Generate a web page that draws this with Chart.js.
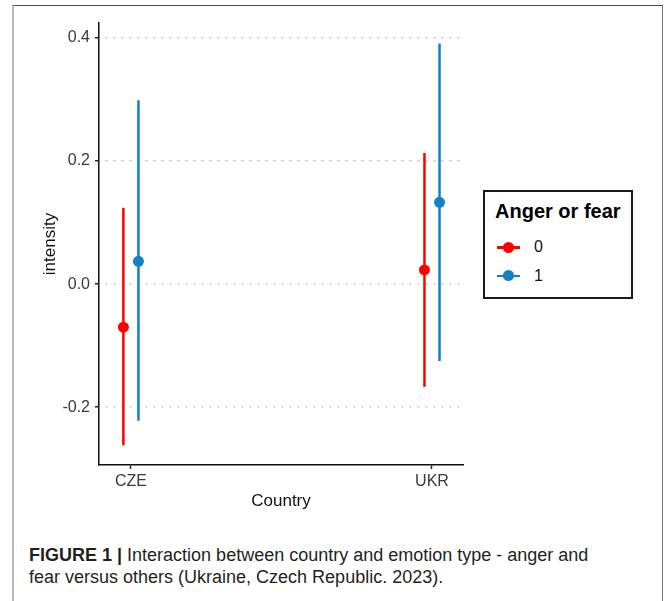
<!DOCTYPE html>
<html>
<head>
<meta charset="utf-8">
<script src="https://cdn.jsdelivr.net/npm/chart.js@4.4.0/dist/chart.umd.min.js"></script>
<style>
  body { margin: 0; background: #fff; font-family: "Liberation Sans", Arial, sans-serif; }
  #wrap { position: relative; width: 665px; height: 601px; overflow: hidden; }
  #frame { position: absolute; left: 12px; top: 5px; width: 651px; height: 610px; box-sizing: border-box;
    border-top: 1.5px solid #4a4a4a; border-left: 2px solid #bbb; border-right: 1.5px solid #777; }
  #chart { position: absolute; left: 0; top: 0; }
  #legend { position: absolute; left: 483px; top: 190px; width: 150px; height: 109px; box-sizing: border-box;
    border: 2px solid #1a1a1a; background: #fff; }
  #legend .title { position: absolute; left: 10px; top: 7px; font-weight: bold; font-size: 20px; line-height: 24px; color: #000; white-space: nowrap; }
  #legend .row { position: absolute; left: 0; height: 20px; width: 140px; }
  #legend .line { position: absolute; left: 12px; top: 9px; width: 23px; height: 2.5px; }
  #legend .dot { position: absolute; left: 18px; top: 4.5px; width: 11px; height: 11px; border-radius: 50%; }
  #legend .lab { position: absolute; left: 49px; top: 0; font-size: 16px; line-height: 20px; color: #111; }
  #caption { position: absolute; left: 29px; top: 544px; font-size: 18px; line-height: 22px; color: #231f20; white-space: nowrap; }
</style>
</head>
<body>
<div id="wrap">
  <div id="frame"></div>
  <canvas id="chart" width="665" height="520"></canvas>
  <div id="legend"></div>
  <div id="caption"><b>FIGURE 1 |</b> Interaction between country and emotion type - anger and<br>fear versus others (Ukraine, Czech Republic. 2023).</div>
</div>
<script>
// estimates
const countries = ['CZE', 'UKR'];
const groups = ['0', '1'];
const colors = ['#fe0000', '#1380c8'];
const est0 = [-0.070, 0.023];
const lo0 = [-0.262, -0.167];
const hi0 = [0.124, 0.213];
const est1 = [0.037, 0.133];
const lo1 = [-0.222, -0.125];
const hi1 = [0.299, 0.391];
const yTicks = [-0.2, 0.0, 0.2, 0.4];

const dodge = 0.025;
const series = [
  { est: est0, lo: lo0, hi: hi0, off: -dodge },
  { est: est1, lo: lo1, hi: hi1, off: dodge }
];

const errorBars = {
  id: 'errorBars',
  beforeDatasetsDraw(chart) {
    const { ctx, scales: { x, y } } = chart;
    ctx.save();
    ctx.lineWidth = 2.5;
    series.forEach((s, k) => {
      ctx.strokeStyle = colors[k];
      countries.forEach((c, i) => {
        const px = x.getPixelForValue(i + s.off);
        ctx.beginPath();
        ctx.moveTo(px, y.getPixelForValue(s.lo[i]));
        ctx.lineTo(px, y.getPixelForValue(s.hi[i]));
        ctx.stroke();
      });
    });
    ctx.restore();
  }
};

new Chart(document.getElementById('chart'), {
  type: 'scatter',
  data: {
    datasets: series.map((s, k) => ({
      label: groups[k],
      data: countries.map((c, i) => ({ x: i + s.off, y: s.est[i] })),
      backgroundColor: colors[k],
      borderWidth: 0,
      pointRadius: 5.5
    }))
  },
  options: {
    responsive: false,
    animation: false,
    events: [],
    layout: { padding: { left: 0, right: 202, top: 23, bottom: 0 } },
    plugins: { legend: { display: false }, tooltip: { enabled: false } },
    scales: {
      x: {
        type: 'linear',
        min: -0.106,
        max: 1.103,
        afterBuildTicks: (axis) => { axis.ticks = countries.map((c, i) => ({ value: i })); },
        afterFit: (axis) => { axis.height = 55; },
        ticks: { callback: (v) => countries[v], color: '#3a3a3a', font: { size: 16, family: 'Liberation Sans' }, padding: 3, maxRotation: 0 },
        grid: { drawOnChartArea: false, tickColor: '#222', tickWidth: 1.5, tickLength: 4 },
        border: { color: '#111', width: 1.5 },
        title: { display: true, text: 'Country', color: '#111', font: { size: 17, family: 'Liberation Sans' }, padding: { top: 0, bottom: 8 } }
      },
      y: {
        min: -0.294,
        max: 0.4244,
        afterBuildTicks: (axis) => { axis.ticks = yTicks.map(v => ({ value: v })); },
        afterFit: (axis) => { axis.width = 99; },
        ticks: { callback: (v) => v.toFixed(1), color: '#3a3a3a', font: { size: 16, family: 'Liberation Sans' }, padding: 5 },
        grid: { color: '#c4c4c4', lineWidth: 1.5, tickColor: '#222', tickWidth: 1.5, tickLength: 4, tickBorderDash: [] },
        border: { color: '#111', width: 1.5, dash: [2, 6], dashOffset: -6 },
        title: { display: true, text: 'intensity', color: '#111', font: { size: 17, family: 'Liberation Sans' }, padding: { top: 40, bottom: 0 } }
      }
    }
  },
  plugins: [errorBars]
});

// legend box
const legend = document.getElementById('legend');
legend.innerHTML = '<div class="title">Anger or fear</div>' + groups.map((g, k) =>
  `<div class="row" style="top:${45 + k * 28.7}px"><div class="line" style="background:${colors[k]}"></div>` +
  `<div class="dot" style="background:${colors[k]}"></div><div class="lab">${g}</div></div>`).join('');
</script>
</body>
</html>
